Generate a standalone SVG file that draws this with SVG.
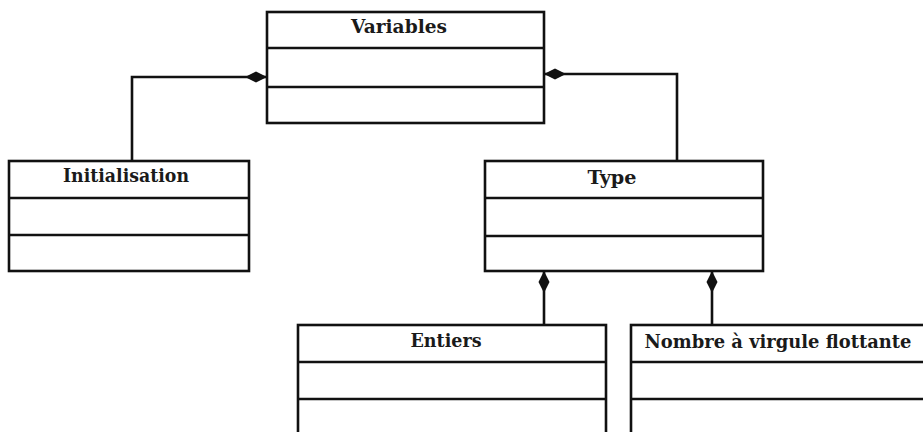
<svg xmlns="http://www.w3.org/2000/svg" width="923" height="432" viewBox="0 0 923 432">
<style>
.box{fill:#fff;stroke:#111;stroke-width:2.6}
.div{stroke:#111;stroke-width:2.6}
.conn{fill:none;stroke:#111;stroke-width:2.6}
.t{font-family:"DejaVu Serif","Liberation Serif",serif;font-weight:bold;font-size:18px;fill:#1a1a1a;text-anchor:middle}
</style>
<defs>
<marker id="dia" markerUnits="userSpaceOnUse" markerWidth="22" markerHeight="12" refX="0" refY="5" orient="auto" viewBox="0 0 20 10" overflow="visible">
<path d="M0,5 L10,0 L20,5 L10,10 Z" fill="#111"/>
</marker>
</defs>
<rect width="923" height="432" fill="#fff"/>
<g id="connectors">
<path class="conn" d="M267,77 H132 V161" marker-start="url(#dia)"/>
<path class="conn" d="M544,74 H677 V161" marker-start="url(#dia)"/>
<path class="conn" d="M544,271 V325" marker-start="url(#dia)"/>
<path class="conn" d="M712,271 V325" marker-start="url(#dia)"/>
</g>
<g id="variables">
<rect class="box" x="267" y="12" width="277" height="111"/>
<line class="div" x1="267" y1="48" x2="544" y2="48"/>
<line class="div" x1="267" y1="87" x2="544" y2="87"/>
<text class="t" x="399" y="33" textLength="96" lengthAdjust="spacingAndGlyphs">Variables</text>
</g>
<g id="initialisation">
<rect class="box" x="9" y="161" width="240" height="110"/>
<line class="div" x1="9" y1="198" x2="249" y2="198"/>
<line class="div" x1="9" y1="235" x2="249" y2="235"/>
<text class="t" x="126" y="182" textLength="126" lengthAdjust="spacingAndGlyphs">Initialisation</text>
</g>
<g id="type">
<rect class="box" x="485" y="161" width="278" height="110"/>
<line class="div" x1="485" y1="198" x2="763" y2="198"/>
<line class="div" x1="485" y1="236" x2="763" y2="236"/>
<text class="t" x="612" y="184" textLength="49" lengthAdjust="spacingAndGlyphs">Type</text>
</g>
<g id="entiers">
<rect class="box" x="298" y="325" width="308" height="120"/>
<line class="div" x1="298" y1="362" x2="606" y2="362"/>
<line class="div" x1="298" y1="399" x2="606" y2="399"/>
<text class="t" x="446" y="347" textLength="71" lengthAdjust="spacingAndGlyphs">Entiers</text>
</g>
<g id="nombre">
<rect class="box" x="631" y="325" width="300" height="120"/>
<line class="div" x1="631" y1="362" x2="931" y2="362"/>
<line class="div" x1="631" y1="399" x2="931" y2="399"/>
<text class="t" x="778" y="348" textLength="267" lengthAdjust="spacingAndGlyphs">Nombre à virgule flottante</text>
</g>
</svg>
